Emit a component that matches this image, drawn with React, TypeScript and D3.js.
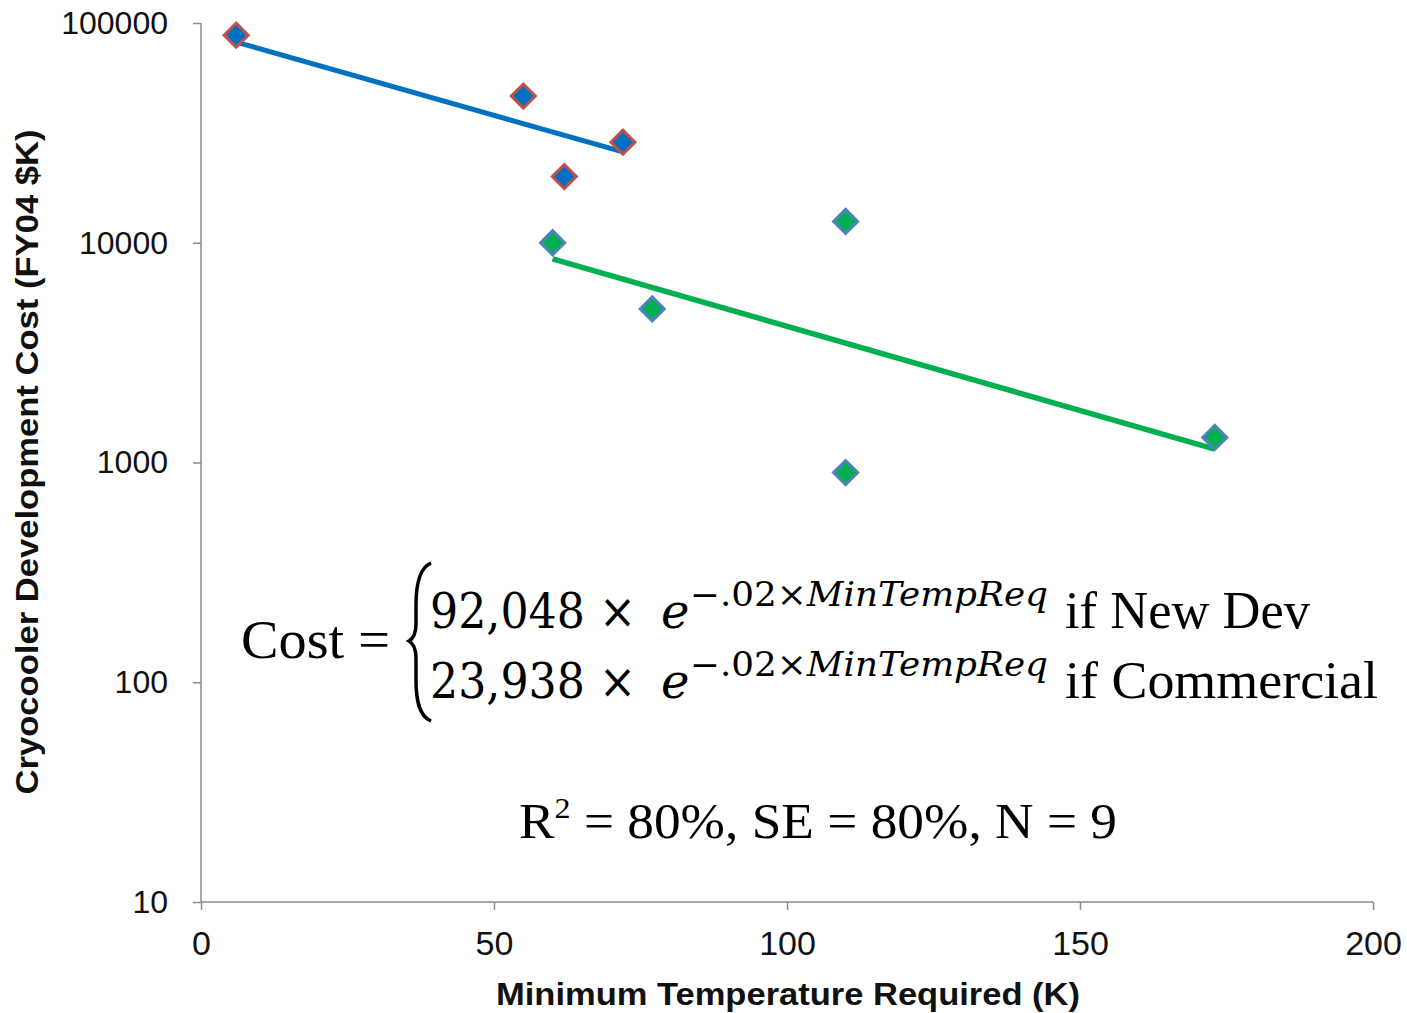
import React, { useEffect, useRef } from 'react';
import * as d3 from 'd3';

// New development cryocoolers
const newDevTemp = [6, 55, 62, 72];
const newDevCost = [88000, 46500, 20000, 28700];

// Commercial cryocoolers
const commTemp = [60, 77, 110, 110, 173];
const commCost = [10000, 5000, 12500, 900, 1300];

// exponential trend lines as drawn (endpoints)
const newDevTrendTemp = [6, 72];
const newDevTrendCost = [81900, 25900];
const commTrendTemp = [60, 173];
const commTrendCost = [8440, 1150];

const xTicks = [0, 50, 100, 150, 200];
const yTicks = [10, 100, 1000, 10000, 100000];

const W = 1407;
const H = 1013;
const margin = { top: 23, right: 34, bottom: 111, left: 201 };

const App = () => {
  const xAxisRef = useRef<SVGGElement>(null);
  const yAxisRef = useRef<SVGGElement>(null);

  const x = d3.scaleLinear().domain([0, 200]).range([margin.left, W - margin.right]);
  const y = d3.scaleLog().domain([10, 100000]).range([H - margin.bottom, margin.top]);

  useEffect(() => {
    const xa = d3.select(xAxisRef.current);
    xa.call(d3.axisBottom(x).tickValues(xTicks).tickSize(8).tickPadding(21).tickFormat(d3.format('d')) as any);
    xa.select('.domain').attr('stroke', '#8c8c8c').attr('stroke-width', 1.5).attr('d', `M${x(0)},0H${x(200)}`);
    xa.selectAll('.tick line').attr('stroke', '#8c8c8c').attr('stroke-width', 1.5);
    xa.selectAll('.tick text').attr('font-size', 34).attr('font-family', 'Arial, "Liberation Sans", sans-serif').attr('fill', '#111');

    const ya = d3.select(yAxisRef.current);
    ya.call(d3.axisLeft(y).tickValues(yTicks).tickSize(8).tickPadding(25).tickFormat(d3.format('d')) as any);
    ya.select('.domain').attr('stroke', '#8c8c8c').attr('stroke-width', 1.5).attr('d', `M0,${y(10)}V${y(100000)}`);
    ya.selectAll('.tick line').attr('stroke', '#8c8c8c').attr('stroke-width', 1.5);
    ya.selectAll('.tick text').attr('font-size', 32).attr('font-family', 'Arial, "Liberation Sans", sans-serif').attr('fill', '#111');
  }, []);

  const line = d3.line<[number, number]>().x(d => x(d[0])).y(d => y(d[1]));
  const diamond = d3.symbol().type(d3.symbolSquare).size(290)();

  const serif = '"Liberation Serif", "Times New Roman", serif';
  const math = '"DejaVu Serif", "Liberation Serif", serif';

  return (
    <svg width={W} height={H} style={{ position: 'absolute', left: 0, top: 0, background: '#fff' }}>
      <g ref={xAxisRef} transform={`translate(0,${H - margin.bottom})`} />
      <g ref={yAxisRef} transform={`translate(${margin.left},0)`} />

      <path d={line(newDevTrendTemp.map((t, i) => [t, newDevTrendCost[i]]) as any) || ''}
        fill="none" stroke="#0070C0" strokeWidth={5} />
      <path d={line(commTrendTemp.map((t, i) => [t, commTrendCost[i]]) as any) || ''}
        fill="none" stroke="#00B050" strokeWidth={5.5} />

      {newDevTemp.map((t, i) => (
        <path key={'n' + i} d={diamond || ''} transform={`translate(${x(t)},${y(newDevCost[i])}) rotate(45)`}
          fill="#0070C0" stroke="#C0504D" strokeWidth={3} />
      ))}
      {commTemp.map((t, i) => (
        <path key={'c' + i} d={diamond || ''} transform={`translate(${x(t)},${y(commCost[i])}) rotate(45)`}
          fill="#00B050" stroke="#4F81BD" strokeWidth={3} />
      ))}

      {/* axis titles */}
      <text x={788} y={1005} textAnchor="middle" fontFamily='"Liberation Sans Narrow", Arial, sans-serif'
        fontWeight="bold" fontSize={31} textLength={584} lengthAdjust="spacingAndGlyphs" fill="#111">
        Minimum Temperature Required (K)
      </text>
      <text transform="translate(38,462) rotate(-90)" textAnchor="middle"
        fontFamily='"Liberation Sans Narrow", Arial, sans-serif' fontWeight="bold" fontSize={31}
        textLength={665} lengthAdjust="spacingAndGlyphs" fill="#111">
        Cryocooler Development Cost (FY04 $K)
      </text>

      {/* equation */}
      <text x={241} y={658} fontFamily={serif} fontSize={54} textLength={149} lengthAdjust="spacingAndGlyphs">Cost =</text>
      <path d="M431,563 C419,568 416,585 416,605 L416,624 C416,633 414,638 409,641 C414,644 416,649 416,658 L416,680 C416,700 419,716 431,721"
        fill="none" stroke="#000" strokeWidth={3.5} />
      <text x={430} y={628} fontFamily={math} fontSize={48} textLength={206} lengthAdjust="spacingAndGlyphs">92,048 ×</text>
      <text x={430} y={698} fontFamily={math} fontSize={48} textLength={206} lengthAdjust="spacingAndGlyphs">23,938 ×</text>
      <text x={661} y={628} fontFamily={math} fontStyle="italic" fontSize={48}>e</text>
      <text x={661} y={698} fontFamily={math} fontStyle="italic" fontSize={48}>e</text>
      <text x={690} y={606} fontFamily={math} fontSize={33} textLength={358} lengthAdjust="spacingAndGlyphs">
        −.02×<tspan fontStyle="italic">MinTempReq</tspan>
      </text>
      <text x={690} y={676} fontFamily={math} fontSize={33} textLength={358} lengthAdjust="spacingAndGlyphs">
        −.02×<tspan fontStyle="italic">MinTempReq</tspan>
      </text>
      <text x={1065} y={628} fontFamily={serif} fontSize={52} textLength={245} lengthAdjust="spacingAndGlyphs">if New Dev</text>
      <text x={1065} y={698} fontFamily={serif} fontSize={52} textLength={313} lengthAdjust="spacingAndGlyphs">if Commercial</text>

      <text x={519} y={838} fontFamily={serif} fontSize={50} textLength={598} lengthAdjust="spacingAndGlyphs">
        R<tspan fontSize={30} dy={-20}>2</tspan><tspan dy={20}> = 80%, SE = 80%, N = 9</tspan>
      </text>
    </svg>
  );
};

export default App;
